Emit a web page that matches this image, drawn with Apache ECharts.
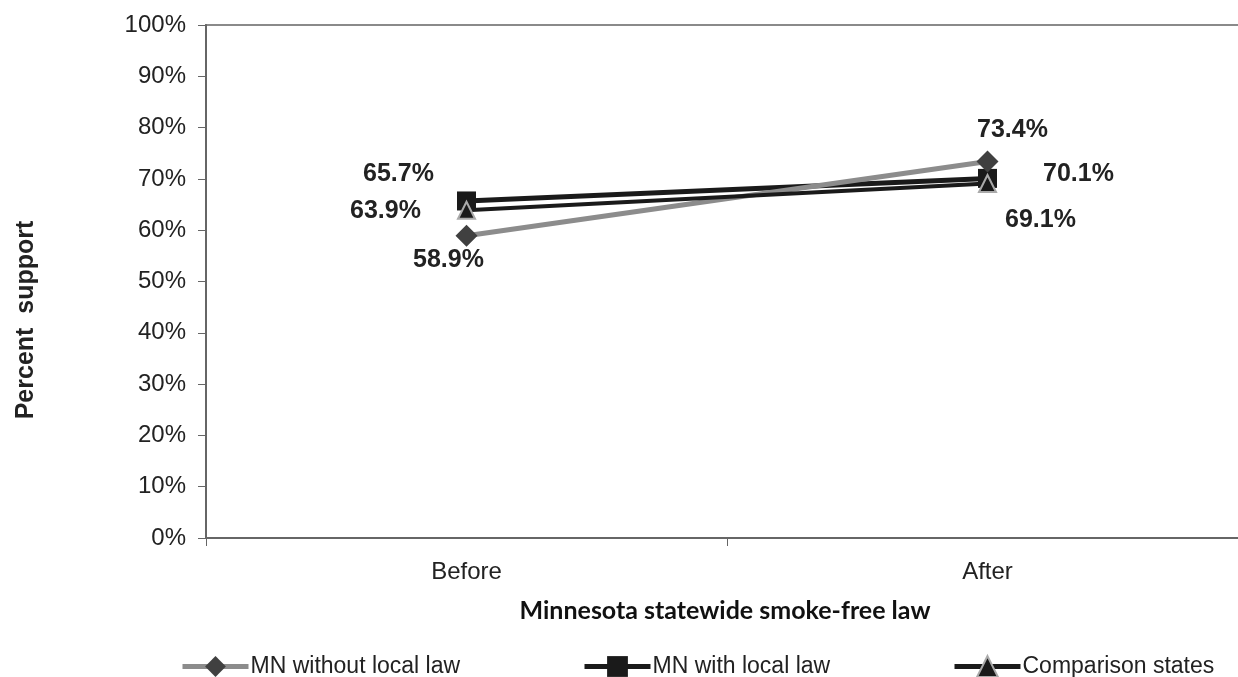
<!DOCTYPE html>
<html><head><meta charset="utf-8">
<script src="https://cdn.jsdelivr.net/npm/echarts@6/dist/echarts.min.js"></script>
<style>html,body{margin:0;padding:0;background:#fff;overflow:hidden;width:1238px;height:677px}#c{width:1260px;height:677px}</style>
</head><body><div id="c"></div>
<script>
const categories = ['Before', 'After'];
const seriesNames = ['MN without local law', 'MN with local law', 'Comparison states'];
const mnWithout = [58.9, 73.4];
const mnWith = [65.7, 70.1];
const comparison = [63.9, 69.1];
const yTicks = [0, 100, 10];

const chart = echarts.init(document.getElementById('c'));
const labelBase = {show: true, position: 'inside', formatter: '{c}%', fontFamily: 'Liberation Sans, Arial', fontWeight: 'bold', fontSize: 25, color: '#222'};
function pts(vals, offsets) {
  return vals.map((v, i) => ({value: v, label: Object.assign({}, labelBase, {offset: offsets[i]})}));
}
const legendBase = {top: 655, padding: 0, itemWidth: 66, itemHeight: 26, itemGap: 0,
  lineStyle: {width: 5},
  textStyle: {fontFamily: 'Liberation Sans, Arial', fontSize: 23, color: '#222', padding: [0, 0, 0, -3]}};
chart.setOption({
  animation: false,
  grid: {left: 206, top: 25, right: 12, bottom: 139, show: true, borderColor: '#8a8a8a', borderWidth: 2, containLabel: false},
  xAxis: {type: 'category', data: categories, boundaryGap: true,
    axisLine: {lineStyle: {color: '#666', width: 2}},
    axisTick: {show: true, length: 8, lineStyle: {color: '#666'}},
    axisLabel: {margin: 22, fontFamily: 'Liberation Sans, Arial', fontSize: 24, color: '#222'}},
  yAxis: {type: 'value', min: yTicks[0], max: yTicks[1], interval: yTicks[2],
    splitLine: {show: false},
    axisLine: {show: true, lineStyle: {color: '#666', width: 2}},
    axisTick: {show: true, length: 8, lineStyle: {color: '#666'}},
    axisLabel: {formatter: '{value}%', margin: 20, fontFamily: 'Liberation Sans, Arial', fontSize: 24, color: '#222'}},
  legend: [
    Object.assign({}, legendBase, {left: 180, data: [seriesNames[0]]}),
    Object.assign({}, legendBase, {left: 582, data: [seriesNames[1]]}),
    Object.assign({}, legendBase, {left: 952, data: [seriesNames[2]]})
  ],
  graphic: [
    {type: 'text', x: 26, y: 320, rotation: Math.PI / 2,
      style: {text: 'Percent  support', fontFamily: 'Liberation Sans, Arial', fontWeight: 'bold', fontSize: 25, fill: '#222', align: 'center', verticalAlign: 'middle'}},
    {type: 'text', x: 725, y: 611,
      style: {text: 'Minnesota statewide smoke-free law', fontFamily: 'Lato', fontWeight: 'bold', fontSize: 25, fill: '#111', align: 'center', verticalAlign: 'middle'}}
  ],
  series: [
    {name: seriesNames[0], type: 'line', z: 3, data: pts(mnWithout, [[-18, 24], [25, -31]]),
      symbol: 'diamond', symbolSize: 22, showAllSymbol: true,
      lineStyle: {color: '#8c8c8c', width: 5}, itemStyle: {color: '#404040', borderWidth: 0}},
    {name: seriesNames[1], type: 'line', z: 2, data: pts(mnWith, [[-68, -27], [91, -4]]),
      symbol: 'rect', symbolSize: 19,
      lineStyle: {color: '#1a1a1a', width: 5}, itemStyle: {color: '#1a1a1a', borderWidth: 0}},
    {name: seriesNames[2], type: 'line', z: 4, data: pts(comparison, [[-81, 1], [53, 37]]),
      symbol: 'triangle', symbolSize: 17,
      lineStyle: {color: '#1a1a1a', width: 4}, itemStyle: {color: '#1a1a1a', borderColor: '#aaaaaa', borderWidth: 2}}
  ]
});
</script></body></html>
